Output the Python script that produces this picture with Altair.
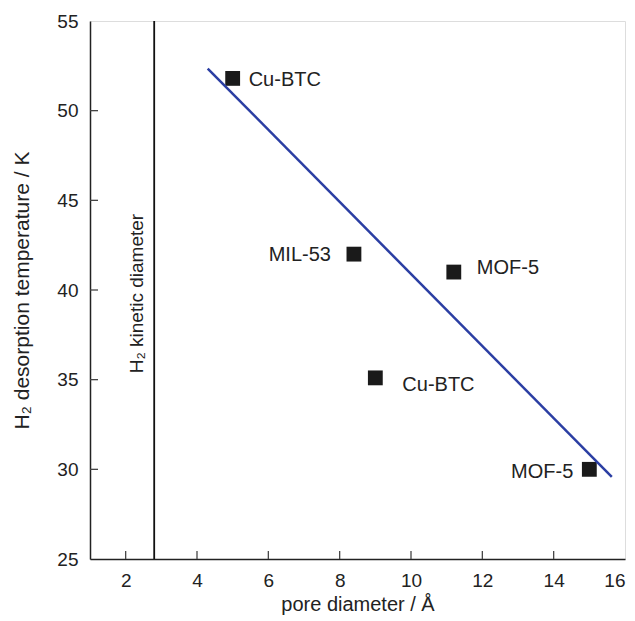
import altair as alt
import pandas as pd

# ---- data ----
names = ["Cu-BTC", "MIL-53", "MOF-5", "Cu-BTC", "MOF-5"]
pore = [5.0, 8.4, 11.2, 9.0, 15.0]
temp = [51.8, 42.0, 41.0, 35.1, 30.0]
fit_x = [4.3, 15.63]
fit_y = [52.35, 29.58]
kinetic_d = 2.8
kinetic_label = "H\u2082 kinetic diameter"
x_ticks = [2, 4, 6, 8, 10, 12, 14, 16]
y_ticks = [25, 30, 35, 40, 45, 50, 55]
x_inner_ticks = [2, 4, 6, 8, 10, 12, 14]
y_inner_ticks = [30, 35, 40, 45, 50]

# ---- styling ----
W, H = 535, 538
FONT = "Liberation Sans"
label_style = [  # (dx, dy, align) per point label
    (16, 2, "left"),
    (-23, 1, "right"),
    (23, -4, "left"),
    (27, 7, "left"),
    (-16, 3, "right"),
]
# tick glyphs: path in the unit box [-1, 1], scaled by sqrt(size)/2 (size 256 -> 8 px)
UP_TICK = "M-0.08,0 L0.08,0 L0.08,-1 L-0.08,-1 Z"
RIGHT_TICK = "M0,-0.08 L1,-0.08 L1,0.08 L0,0.08 Z"

pts = pd.DataFrame({"name": names, "pore": pore, "temp": temp, "i": range(len(names))})
fit = pd.DataFrame({"pore": fit_x, "temp": fit_y})
xtk = pd.DataFrame({"pore": x_inner_ticks, "temp": [25.0] * len(x_inner_ticks)})
ytk = pd.DataFrame({"pore": [1.0] * len(y_inner_ticks), "temp": y_inner_ticks})

xs = alt.Scale(domain=[1, 16], nice=False, zero=False)
ys = alt.Scale(domain=[25, 55], nice=False, zero=False)

x_axis = alt.Axis(values=x_ticks, title="pore diameter / \u00c5", ticks=False, labelPadding=12,
                  labelFontSize=19, titleFontSize=20, titleFontWeight="normal", titlePadding=4,
                  labelColor="#222", titleColor="#222", domainColor="#222", domainWidth=1.5,
                  grid=False, labelFont=FONT, titleFont=FONT)
y_axis = alt.Axis(values=y_ticks, title="H\u2082 desorption temperature / K", ticks=False, labelPadding=12,
                  labelFontSize=19, titleFontSize=21, titleFontWeight="normal", titlePadding=24,
                  labelColor="#222", titleColor="#222", domainColor="#222", domainWidth=1.5,
                  grid=False, labelFont=FONT, titleFont=FONT)

base = alt.Chart(pts)

points = base.mark_point(shape="square", filled=True, size=220, color="#1a1a1a", opacity=1).encode(
    x=alt.X("pore:Q", scale=xs, axis=x_axis),
    y=alt.Y("temp:Q", scale=ys, axis=y_axis),
)

fit_line = alt.Chart(fit).mark_line(color="#2b3ea3", strokeWidth=2.5).encode(
    x=alt.X("pore:Q", scale=xs),
    y=alt.Y("temp:Q", scale=ys),
)

kin_line = alt.Chart(pd.DataFrame({"pore": [kinetic_d]})).mark_rule(color="#111", strokeWidth=1.8).encode(
    x=alt.X("pore:Q", scale=xs)
)

kin_text = alt.Chart(pd.DataFrame({"pore": [kinetic_d], "temp": [39.8], "label": [kinetic_label]})).mark_text(
    angle=270, align="center", baseline="bottom", dy=-7, fontSize=19, font=FONT, color="#222"
).encode(
    x=alt.X("pore:Q", scale=xs),
    y=alt.Y("temp:Q", scale=ys),
    text="label:N",
)

labels = []
for i, (dx, dy, al) in enumerate(label_style):
    labels.append(
        base.transform_filter(alt.datum.i == i).mark_text(
            align=al, baseline="middle", dx=dx, dy=dy, fontSize=20, font=FONT, color="#222"
        ).encode(
            x=alt.X("pore:Q", scale=xs),
            y=alt.Y("temp:Q", scale=ys),
            text="name:N",
        )
    )

# inward ticks drawn as small filled bar symbols anchored on the axis lines
xt = alt.Chart(xtk).mark_point(shape=UP_TICK, filled=True, size=256, color="#444", opacity=1,
                               strokeWidth=0).encode(
    x=alt.X("pore:Q", scale=xs), y=alt.Y("temp:Q", scale=ys)
)
yt = alt.Chart(ytk).mark_point(shape=RIGHT_TICK, filled=True, size=256, color="#444", opacity=1,
                               strokeWidth=0).encode(
    x=alt.X("pore:Q", scale=xs), y=alt.Y("temp:Q", scale=ys)
)

chart = alt.layer(points, kin_line, fit_line, kin_text, *labels, xt, yt).properties(
    width=W, height=H,
    autosize=alt.AutoSizeParams(type="none"),
    padding={"left": 82, "top": 13, "right": 2, "bottom": 56},
).configure_view(stroke="#222", strokeWidth=1.5).configure(background="white")

chart.save("out.html", embed_options={"renderer": "svg", "actions": False})
